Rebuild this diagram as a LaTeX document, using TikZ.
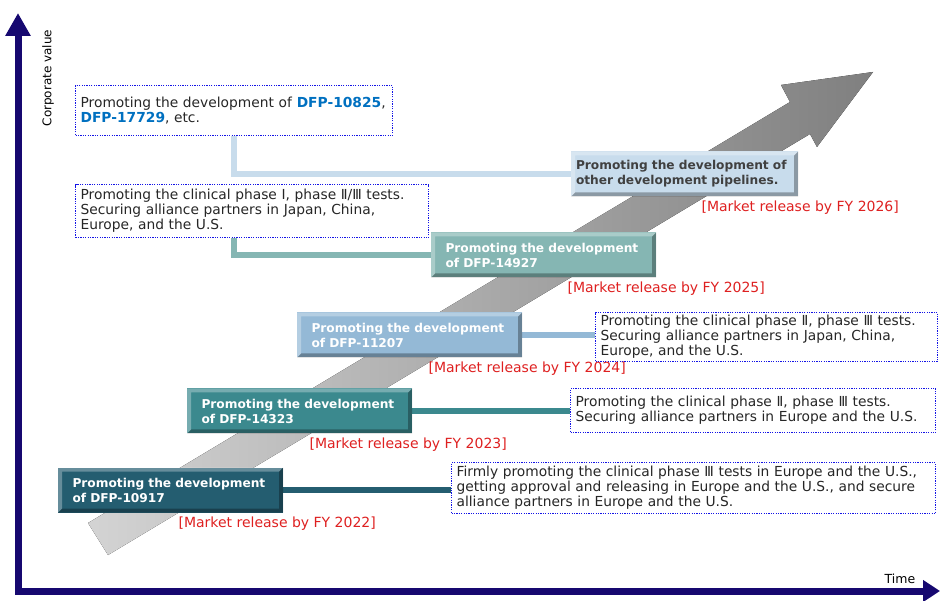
\documentclass[tikz,border=0pt]{standalone}
\usepackage{fontspec}
\setmainfont{DejaVu Sans}
\usepackage{tikz}
\usetikzlibrary{positioning,arrows.meta,calc,backgrounds}
\definecolor{axisblue}{RGB}{22,8,112}
\definecolor{dotblue}{RGB}{20,20,230}
\definecolor{relred}{RGB}{222,32,32}
\definecolor{dfpblue}{RGB}{0,112,192}
\definecolor{tealA}{RGB}{36,93,112}
\definecolor{tealB}{RGB}{59,137,142}
\definecolor{steelC}{RGB}{148,185,214}
\definecolor{tealD}{RGB}{133,182,179}
\definecolor{paleE}{RGB}{200,220,236}
\newcommand{\dfp}[1]{\textbf{\textcolor{dfpblue}{#1}}}

\begin{document}
\begin{tikzpicture}[x=1pt, y=-1pt,
  bevel/.style={path picture={
    \fill[black, opacity=.3] (path picture bounding box.north east) -- (path picture bounding box.south east) -- (path picture bounding box.south west) -- ([shift={(4pt,4pt)}]path picture bounding box.south west) -- ([shift={(-4pt,4pt)}]path picture bounding box.south east) -- ([shift={(-4pt,-4pt)}]path picture bounding box.north east) -- cycle;
    \fill[white, opacity=.3] (path picture bounding box.south west) -- (path picture bounding box.north west) -- (path picture bounding box.north east) -- ([shift={(-4pt,-4pt)}]path picture bounding box.north east) -- ([shift={(4pt,-4pt)}]path picture bounding box.north west) -- ([shift={(4pt,4pt)}]path picture bounding box.south west) -- cycle;}},
  devbox/.style={fill=#1, bevel, minimum height=45pt, text width=196pt, inner xsep=14.5pt, align=left, text=white, font=\fontsize{12.2}{15}\selectfont\bfseries},
  note/.style={draw=dotblue, line width=1.2pt, dash pattern=on 1.2pt off 1.2pt, anchor=north west, align=left, inner xsep=5pt, inner ysep=2pt, text=black!85, font=\fontsize{13.8}{15}\selectfont},
  rel/.style={text=relred, inner sep=0pt, font=\fontsize{14}{15}\selectfont},
  lnk/.style={draw=#1, line width=6pt},
  axis/.style={draw=axisblue, line width=7pt, {Triangle[length=23pt,width=24pt]}-{Triangle[length=17pt,width=21pt]}}
]
\useasboundingbox (0,0) rectangle (940,601);
% axes and the rising arrow
\coordinate (ytop) at (18,13);
\coordinate (o) at (18,591);
\coordinate (xend) at (940,591);
\draw[axis] (ytop) -- (o) -- (xend);
\node[rotate=90, font=\fontsize{12}{13}\selectfont] (yl) at (48,78) {Corporate value};
\node[font=\fontsize{12.5}{13}\selectfont] (xl) at (900,579) {Time};
\fill[left color=black!17, right color=black!50] (88,523) -- (790,102) -- (781,85) -- (873,72) -- (817,147) -- (810,134) -- (108,555) -- cycle;

\node[devbox=tealA] (d10917) at (170.5,490) {Promoting the development\\of DFP-10917};
\node[devbox=tealB] (d14323) at (299.5,411) {Promoting the development\\of DFP-14323};
\node[devbox=steelC] (d11207) at (409.5,335) {Promoting the development\\of DFP-11207};
\node[devbox=tealD] (d14927) at (543.5,255) {Promoting the development\\of DFP-14927};
\node[devbox=paleE, text=black!75, text width=217pt, inner xsep=5pt] (dother) at (684.5,174) {Promoting the development of\\other development pipelines.};

\node[rel, below=4pt of d10917.south east, xshift=-6pt] (r2022) {[Market release by FY 2022]};
\node[rel, below=4pt of d14323.south east, xshift=-4pt] (r2023) {[Market release by FY 2023]};
\node[rel, below=4pt of d11207.south east, xshift=5pt] (r2024) {[Market release by FY 2024]};
\node[rel, below=4pt of d14927.south east, xshift=10pt] (r2025) {[Market release by FY 2025]};
\node[rel, below=4pt of dother.south east, xshift=2pt] (r2026) {[Market release by FY 2026]};

\node[note, text width=307pt, minimum height=50pt] (n10825) at (75,85) {Promoting the development of \dfp{DFP-10825},\\\dfp{DFP-17729}, etc.};
\node[note, text width=343pt, minimum height=53pt] (n14927) at (75,184) {Promoting the clinical phase Ⅰ, phase Ⅱ/Ⅲ tests.\\Securing alliance partners in Japan, China,\\Europe, and the U.S.};
\node[note, text width=332pt, minimum height=49pt] (n11207) at (595,312) {Promoting the clinical phase Ⅱ, phase Ⅲ tests.\\Securing alliance partners in Japan, China,\\Europe, and the U.S.};
\node[note, text width=355pt, minimum height=44pt] (n14323) at (570,388) {Promoting the clinical phase Ⅱ, phase Ⅲ tests.\\Securing alliance partners in Europe and the U.S.};
\node[note, text width=474pt, minimum height=51pt] (n10917) at (451,462) {Firmly promoting the clinical phase Ⅲ tests in Europe and the U.S.,\\getting approval and releasing in Europe and the U.S., and secure\\alliance partners in Europe and the U.S.};

\begin{pgfonlayer}{background}
\draw[lnk=paleE] (n10825.south) |- (dother.west);
\draw[lnk=tealD] ([xshift=-18pt]n14927.south) |- (d14927.west);
\draw[lnk=steelC] (d11207.east) -- (d11207.east -| n11207.west);
\draw[lnk=tealB] (d14323.east) -- (d14323.east -| n14323.west);
\draw[lnk=tealA] (d10917.east) -- (d10917.east -| n10917.west);
\end{pgfonlayer}
\end{tikzpicture}
\end{document}
